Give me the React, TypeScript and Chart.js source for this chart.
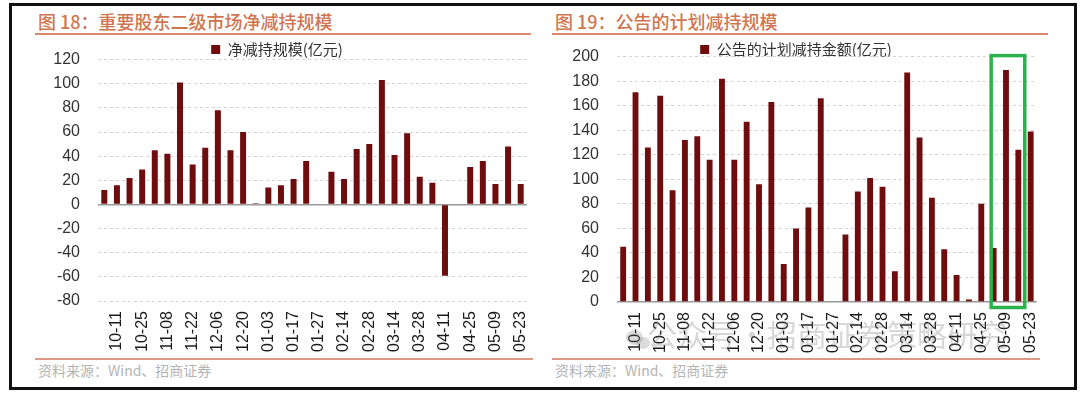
import React, { useEffect, useRef } from 'react';
import { Chart, registerables } from 'chart.js';

Chart.register(...registerables);

// ---------- data ----------
const tickLabels = ['10-11', '10-25', '11-08', '11-22', '12-06', '12-20', '01-03', '01-17', '01-27', '02-14', '02-28', '03-14', '03-28', '04-11', '04-25', '05-09', '05-23'];

// weekly bars: only every second bar carries a date label (odd positions)
const categories = [
  '', '10-11', '', '10-25', '', '11-08', '', '11-22', '', '12-06', '', '12-20', '', '01-03', '', '01-17', '',
  '01-27', '', '02-14', '', '02-28', '', '03-14', '', '03-28', '', '04-11', '', '04-25', '', '05-09', '', '05-23',
];

const netReduction = [12, 16, 22, 29, 45, 42, 101, 33, 47, 78, 45, 60, 1, 14, 16, 21, 36, 0, 27, 21, 46, 50, 103, 41, 59, 23, 18, -59, 0, 31, 36, 17, 48, 17];
const plannedReduction = [45, 171, 126, 168, 91, 132, 135, 116, 182, 116, 147, 96, 163, 31, 60, 77, 166, 0, 55, 90, 101, 94, 25, 187, 134, 85, 43, 22, 2, 80, 44, 189, 124, 139];

const leftTicks = { min: -80, max: 120, step: 20 };
const rightTicks = { min: 0, max: 200, step: 20 };
const highlightStart = 30;
const highlightEnd = 32;

const leftTitle = '图 18：重要股东二级市场净减持规模';
const rightTitle = '图 19：公告的计划减持规模';
const leftSeries = '净减持规模(亿元)';
const rightSeries = '公告的计划减持金额(亿元)';
const sourceText = '资料来源：Wind、招商证券';
const watermark = '公众号·招商证券策略研究';

// ---------- styles ----------
const BAR = '#6e0c0e';
const CJK = '"Noto Sans CJK SC", "Noto Sans", sans-serif';
const NUM = '"Liberation Sans", Arial, sans-serif';
const TITLE_COLOR = '#cf7550';
const LINE_COLOR = '#d98a6b';

const highlightPlugin = {
  id: 'highlightBox',
  afterDatasetsDraw(chart: any) {
    const x = chart.scales.x;
    const step = x.getPixelForValue(1) - x.getPixelForValue(0);
    const left = x.getPixelForValue(highlightStart) - step * 0.2;
    const right = x.getPixelForValue(highlightEnd) + step * 0.52;
    const top = chart.chartArea.top - 1;
    const bottom = chart.chartArea.bottom + 5.5;
    const ctx = chart.ctx;
    ctx.save();
    ctx.strokeStyle = '#2bb24c';
    ctx.lineWidth = 3.5;
    ctx.strokeRect(left, top, right - left, bottom - top);
    ctx.restore();
  },
};

type BarProps = {
  values: number[];
  label: string;
  ticks: { min: number; max: number; step: number };
  left: number;
  top: number;
  width: number;
  height: number;
  yWidth: number;
  xHeight: number;
  legendH: number;
  plugins?: any[];
};

function BarChart(p: BarProps) {
  const ref = useRef<HTMLCanvasElement | null>(null);
  useEffect(() => {
    if (!ref.current) return;
    const legendFix = {
      id: 'legendFix',
      afterInit(chart: any) {
        const lg = chart.legend;
        if (lg && !lg.__patched) {
          const orig = lg.fit.bind(lg);
          lg.fit = function () {
            orig();
            this.height = p.legendH;
          };
          lg.__patched = true;
        }
      },
    };
    const chart = new Chart(ref.current, {
      type: 'bar',
      data: {
        labels: categories,
        datasets: [
          {
            label: p.label,
            data: p.values,
            backgroundColor: BAR,
            borderWidth: 0,
            barPercentage: 0.95,
            categoryPercentage: 0.5,
          },
        ],
      },
      plugins: [legendFix, ...(p.plugins || [])],
      options: {
        responsive: false,
        animation: false,
        layout: { padding: { top: 0, right: 8, bottom: 0, left: 0 } },
        plugins: {
          legend: {
            display: true,
            position: 'top',
            labels: {
              boxWidth: 9,
              boxHeight: 9,
              padding: 4,
              color: '#333',
              font: { family: CJK, size: 15 },
            },
          },
          tooltip: { enabled: false },
        },
        scales: {
          x: {
            grid: { display: false, drawTicks: false },
            border: { display: false },
            ticks: {
              autoSkip: false,
              minRotation: 90,
              maxRotation: 90,
              padding: 10,
              color: '#1a1a1a',
              font: { family: NUM, size: 16 },
            },
            afterFit: (s: any) => {
              s.height = p.xHeight;
            },
          },
          y: {
            min: p.ticks.min,
            max: p.ticks.max,
            ticks: {
              stepSize: p.ticks.step,
              padding: 18,
              color: '#333',
              font: { family: NUM, size: 16 },
            },
            grid: {
              drawTicks: false,
              color: (c: any) => (c.tick && c.tick.value === 0 ? '#9a9a9a' : '#d4d4d4'),
              lineWidth: (c: any) => (c.tick && c.tick.value === 0 ? 1.5 : 1),
            },
            border: {
              display: false,
              dash: (c: any) => (c.tick && c.tick.value === 0 ? [] : [3, 3]),
            },
            afterFit: (s: any) => {
              s.width = p.yWidth;
            },
          },
        },
      } as any,
    });
    return () => chart.destroy();
  }, []);
  return (
    <canvas
      ref={ref}
      width={p.width}
      height={p.height}
      style={{ position: 'absolute', left: p.left, top: p.top, width: p.width, height: p.height, display: 'block' }}
    />
  );
}

function Panel(props: { x: number; lineW: number; srcLineW: number; title: string }) {
  return (
    <>
      <div
        style={{
          position: 'absolute',
          left: props.x + 3,
          top: 9,
          fontFamily: CJK,
          fontSize: 18,
          fontWeight: 500,
          color: TITLE_COLOR,
          lineHeight: '24px',
          whiteSpace: 'nowrap',
        }}
      >
        {props.title}
      </div>
      <div style={{ position: 'absolute', left: props.x, top: 33, width: props.lineW, height: 2, background: LINE_COLOR }} />
      <div style={{ position: 'absolute', left: props.x, top: 358, width: props.srcLineW, height: 2, background: '#dc9a82' }} />
      <div
        style={{
          position: 'absolute',
          left: props.x + 3,
          top: 360,
          fontFamily: CJK,
          fontSize: 14,
          color: '#b4b4b4',
          lineHeight: '20px',
          whiteSpace: 'nowrap',
        }}
      >
        {sourceText}
      </div>
    </>
  );
}

export default function App() {
  return (
    <div style={{ position: 'absolute', left: 0, top: 0, width: 1080, height: 394, background: '#fff', overflow: 'hidden' }}>
      <div
        style={{
          position: 'absolute',
          left: 9,
          top: 3,
          width: 1068,
          height: 387,
          border: '3px solid #111',
          boxSizing: 'border-box',
        }}
      />
      <Panel x={35} lineW={496} srcLineW={498} title={leftTitle} />
      <Panel x={552} lineW={496} srcLineW={488} title={rightTitle} />
      <BarChart
        values={netReduction}
        label={leftSeries}
        ticks={leftTicks}
        left={12}
        top={32}
        width={538}
        height={326}
        yWidth={86}
        xHeight={57}
        legendH={21.5}
      />
      <BarChart
        values={plannedReduction}
        label={rightSeries}
        ticks={rightTicks}
        left={540}
        top={29}
        width={520}
        height={329}
        yWidth={77}
        xHeight={56}
        legendH={18.6}
        plugins={[highlightPlugin]}
      />
      <div
        style={{
          position: 'absolute',
          left: 626,
          top: 330,
          width: 17,
          height: 15,
          borderRadius: '50%',
          background: 'rgba(110,110,110,0.25)',
          pointerEvents: 'none',
        }}
      />
      <div
        style={{
          position: 'absolute',
          left: 636,
          top: 337,
          width: 14,
          height: 12,
          borderRadius: '50%',
          background: 'rgba(110,110,110,0.25)',
          pointerEvents: 'none',
        }}
      />
      <div
        style={{
          position: 'absolute',
          left: 647,
          top: 315,
          fontFamily: CJK,
          fontSize: 30,
          color: 'rgba(110,110,110,0.28)',
          lineHeight: '36px',
          whiteSpace: 'nowrap',
          pointerEvents: 'none',
        }}
      >
        {watermark}
      </div>
    </div>
  );
}
